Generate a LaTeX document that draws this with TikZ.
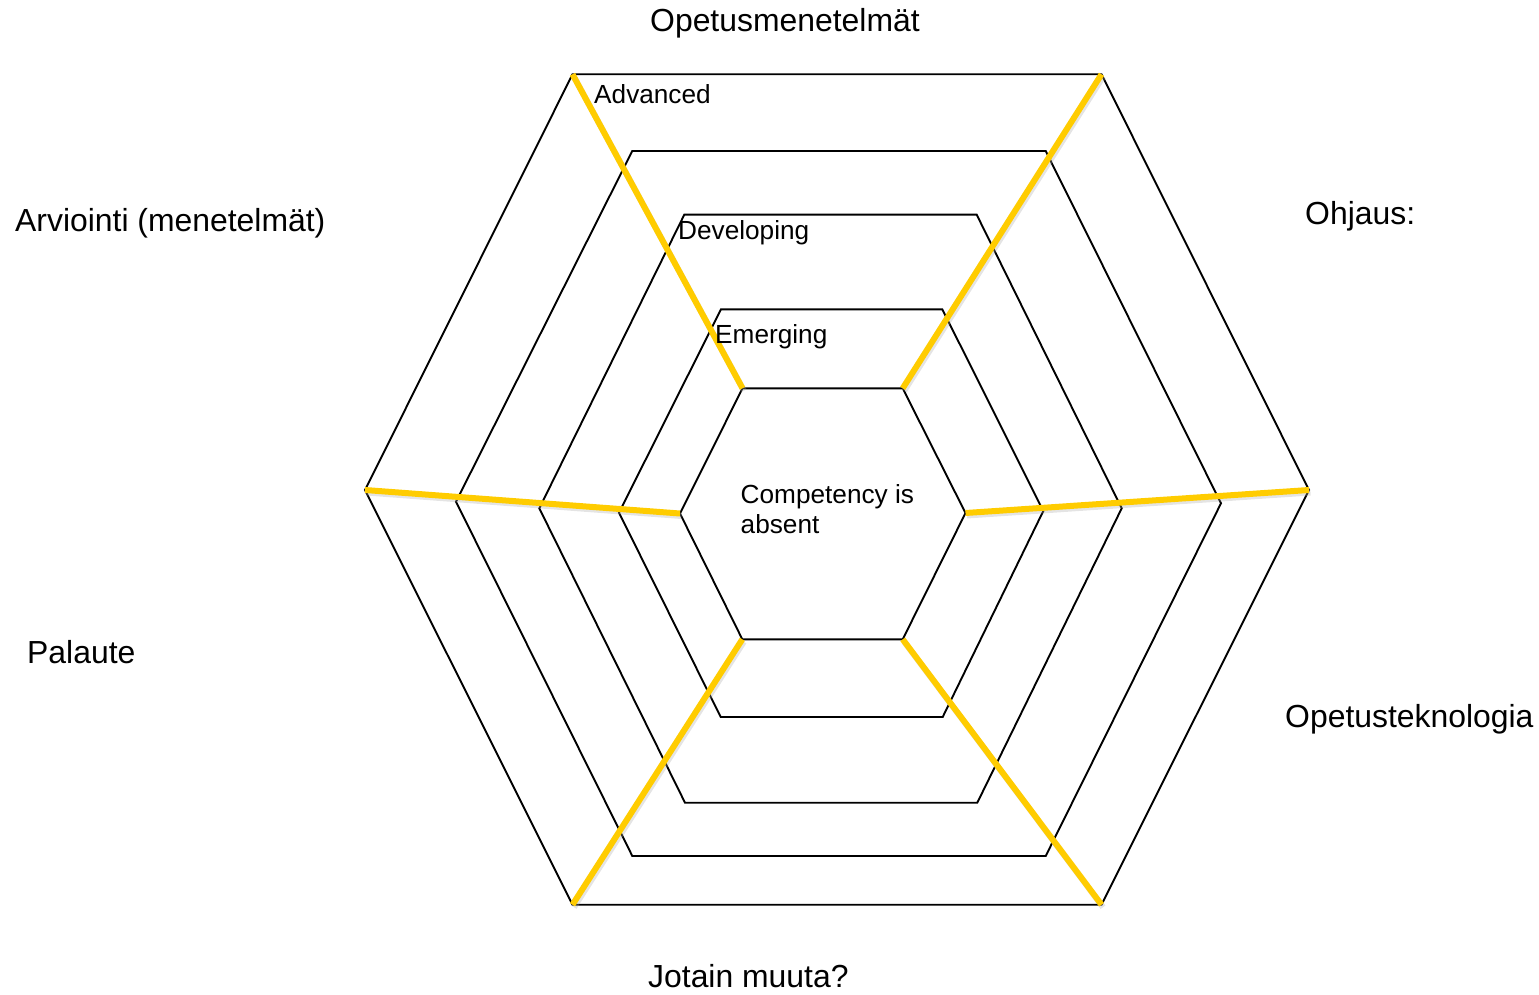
\documentclass[tikz,border=0pt]{standalone}
\usepackage{fontspec}
\setmainfont{Liberation Sans}
\definecolor{spoke}{HTML}{FFCC00}
\begin{document}
\begin{tikzpicture}[x=1pt,y=-1pt,
  hexline/.style={draw=black,line width=1.9pt,line join=miter},
  spokeline/.style={draw=spoke,line width=6pt},
  spokeshadow/.style={draw=black!35,line width=6pt,opacity=0.3},
  biglabel/.style={anchor=base west,inner sep=0pt,font=\fontsize{31.9}{38}\selectfont},
  smalllabel/.style={anchor=base west,inner sep=0pt,font=\fontsize{26.2}{30}\selectfont}]
\useasboundingbox (0,0) rectangle (1539,995);
% hexagon vertices: tl, tr, r, br, bl, l
\coordinate (a1) at (572.5,74.3);  \coordinate (a2) at (1101.5,74.3);
\coordinate (a3) at (1309,490);    \coordinate (a4) at (1101.5,904.7);
\coordinate (a5) at (572.5,904.7); \coordinate (a6) at (365,490);
\coordinate (b1) at (632.3,151);   \coordinate (b2) at (1045.7,151);
\coordinate (b3) at (1221,503.3);  \coordinate (b4) at (1045.7,856);
\coordinate (b5) at (632.3,856);   \coordinate (b6) at (456,501.7);
\coordinate (c1) at (684.3,214.7); \coordinate (c2) at (976.7,214.7);
\coordinate (c3) at (1121.7,508.3);\coordinate (c4) at (977.3,802.7);
\coordinate (c5) at (685,802.7);   \coordinate (c6) at (539.3,508.3);
\coordinate (d1) at (721,309.3);   \coordinate (d2) at (942.3,309.3);
\coordinate (d3) at (1043.3,511);  \coordinate (d4) at (942.7,717);
\coordinate (d5) at (720.7,717);   \coordinate (d6) at (619,512.7);
\coordinate (e1) at (742.5,388.3); \coordinate (e2) at (902.7,388.3);
\coordinate (e3) at (965.5,513);   \coordinate (e4) at (902.7,639.3);
\coordinate (e5) at (742.3,639.3); \coordinate (e6) at (680,513.5);
\foreach \h in {a,b,c,d,e}{
  \draw[hexline] (\h1) -- (\h2) -- (\h3) -- (\h4) -- (\h5) -- (\h6) -- cycle;
}
% spokes
\foreach \i in {1,...,6}{
  \draw[spokeshadow,transform canvas={shift={(1.5pt,-2.5pt)}}] (a\i) -- (e\i);
}
\foreach \i in {1,...,6}{
  \draw[spokeline] (a\i) -- (e\i);
}
% labels
\node[biglabel] (t1) at (650,32) {Opetusmenetelmät};
\node[biglabel] (t2) at (1305,225) {Ohjaus:};
\node[biglabel] (t3) at (1285,727) {Opetusteknologia};
\node[biglabel] (t4) at (648,987) {Jotain muuta?};
\node[biglabel] (t5) at (27,663) {Palaute};
\node[biglabel] (t6) at (15,232) {Arviointi (menetelmät)};
\node[smalllabel] (l1) at (594,104) {Advanced};
\node[smalllabel] (l2) at (678,240) {Developing};
\node[smalllabel] (l3) at (715,343) {Emerging};
\node[smalllabel] (l4) at (740.5,503) {Competency is};
\node[smalllabel] (l5) at (740.5,533) {absent};
\end{tikzpicture}
\end{document}
